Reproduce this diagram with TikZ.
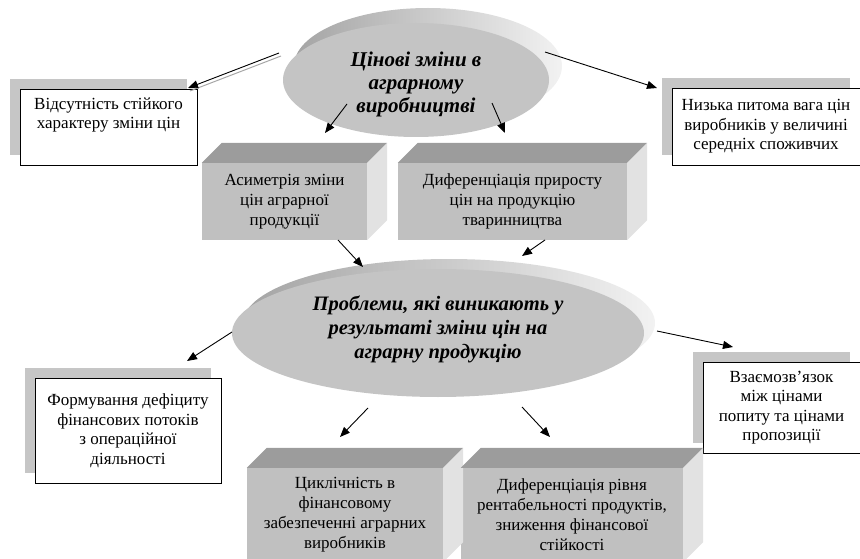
\documentclass[tikz,border=0pt]{standalone}
\usepackage{fontspec}
\setmainfont{Liberation Serif}
\usetikzlibrary{arrows.meta,shapes.geometric,shadows}
\definecolor{disc-gray}{HTML}{C4C4C4}
\definecolor{rim-dark}{HTML}{A4A4A4}
\definecolor{rim-light}{HTML}{F2F2F2}
\definecolor{face-front}{HTML}{C0C0C0}
\definecolor{face-top}{HTML}{9C9C9C}
\definecolor{face-side}{HTML}{E2E2E2}
\definecolor{shade-gray}{HTML}{C6C6C6}

\begin{document}
\begin{tikzpicture}[
    x=1pt, y=-1pt,
    >=Stealth,
    arr/.style={-{Triangle[length=10pt,width=8pt]}, line width=0.9pt, draw=black},
    disc/.style={ellipse, fill=disc-gray, draw=none, inner sep=0pt},
    rim/.style={ellipse, draw=none, inner sep=0pt, left color=rim-dark, right color=rim-light},
    disctext/.style={align=center, font=\fontsize{21}{23}\selectfont\bfseries\itshape},
    note/.style={draw=black, line width=0.8pt, fill=white, align=center, inner sep=2pt,
        font=\fontsize{17}{19.5}\selectfont,
        drop shadow={shadow xshift=-10pt, shadow yshift=10pt, fill=shade-gray, opacity=1}},
    block/.style={fill=face-front, draw=none, align=center, inner sep=2pt,
        font=\fontsize{17}{20}\selectfont}
]
\useasboundingbox (0,0) rectangle (860,559);

% discs
\node[rim, minimum width=268, minimum height=116] (topRim) at (428,66) {};
\node[disc, minimum width=266, minimum height=114] (top) at (416,80) {};
\node[disctext] (topText) at (416,84) {Цінові зміни в\\аграрному\\виробництві};

\node[rim, minimum width=412, minimum height=128] (lowRim) at (449,323) {};
\node[disc, minimum width=412, minimum height=128] (low) at (438,333) {};
\node[disctext, font=\fontsize{20.5}{24}\selectfont\bfseries\itshape] (lowText) at (438,329) {Проблеми, які виникають у\\результаті зміни цін на\\аграрну продукцію};

% side notes
\node[note, minimum width=177, minimum height=76] (noStable) at (108.5,127) {Відсутність стійкого\\характеру зміни цін\\[2pt]\strut};
\node[note, minimum width=188, minimum height=77] (lowShare) at (766,126.5) {Низька питома вага цін\\виробників у величині\\середніх споживчих};
\node[note, minimum width=186, minimum height=105] (deficit) at (128,430.5) {Формування дефіциту\\фінансових потоків\\з операційної\\діяльності};
\node[note, minimum width=157, minimum height=91] (relation) at (781.5,407.5) {Взаємозв’язок\\між цінами\\попиту та цінами\\пропозиції};

% blocks
\node[block, minimum width=165, minimum height=77] (asym) at (284.5,201.5) {Асиметрія зміни\\цін аграрної\\продукції};
\node[block, minimum width=229, minimum height=77] (growth) at (512.5,201.5) {Диференціація приросту\\цін на продукцію\\тваринництва};
\node[block, minimum width=196, minimum height=94] (cyclic) at (345,515) {Циклічність в\\фінансовому\\забезпеченні аграрних\\виробників};
\node[block, minimum width=222, minimum height=94] (profit) at (572,515) {Диференціація рівня\\рентабельності продуктів,\\зниження фінансової\\стійкості};

\foreach \b in {asym,growth,cyclic,profit} {
    \fill[face-top] (\b.north west) -- ++(20,-20) -- ([shift={(20,-20)}]\b.north east) -- (\b.north east) -- cycle;
    \fill[face-side] (\b.north east) -- ++(20,-20) -- ([shift={(20,-20)}]\b.south east) -- (\b.south east) -- cycle;
}

% arrow ends
\coordinate (topW) at (279,53);
\coordinate (noStableE) at (188,88);
\coordinate (topE) at (545,52);
\coordinate (lowShareW) at (657,88);
\coordinate (topSW) at (347,104);
\coordinate (asymN) at (325,133);
\coordinate (topSE) at (492,103);
\coordinate (growthN) at (505,133);
\coordinate (asymS) at (338,240);
\coordinate (lowNW) at (363,267);
\coordinate (growthS) at (545,240);
\coordinate (lowNE) at (522,256);
\coordinate (lowW) at (232,332);
\coordinate (deficitN) at (187,361);
\coordinate (lowE) at (657,331);
\coordinate (relationN) at (733,347);
\coordinate (lowSW) at (368,408);
\coordinate (cyclicN) at (340,437);
\coordinate (lowSE) at (522,407);
\coordinate (profitN) at (550,437);

\draw[line width=1pt, draw=gray!70] ([shift={(2,3)}]topW) -- ([shift={(2,3)}]noStableE);
\draw[arr] (topW) -- (noStableE);
\foreach \a/\b in {topE/lowShareW, topSW/asymN, topSE/growthN, asymS/lowNW, growthS/lowNE,
    lowW/deficitN, lowE/relationN, lowSW/cyclicN, lowSE/profitN}
    \draw[arr] (\a) -- (\b);
\end{tikzpicture}
\end{document}
